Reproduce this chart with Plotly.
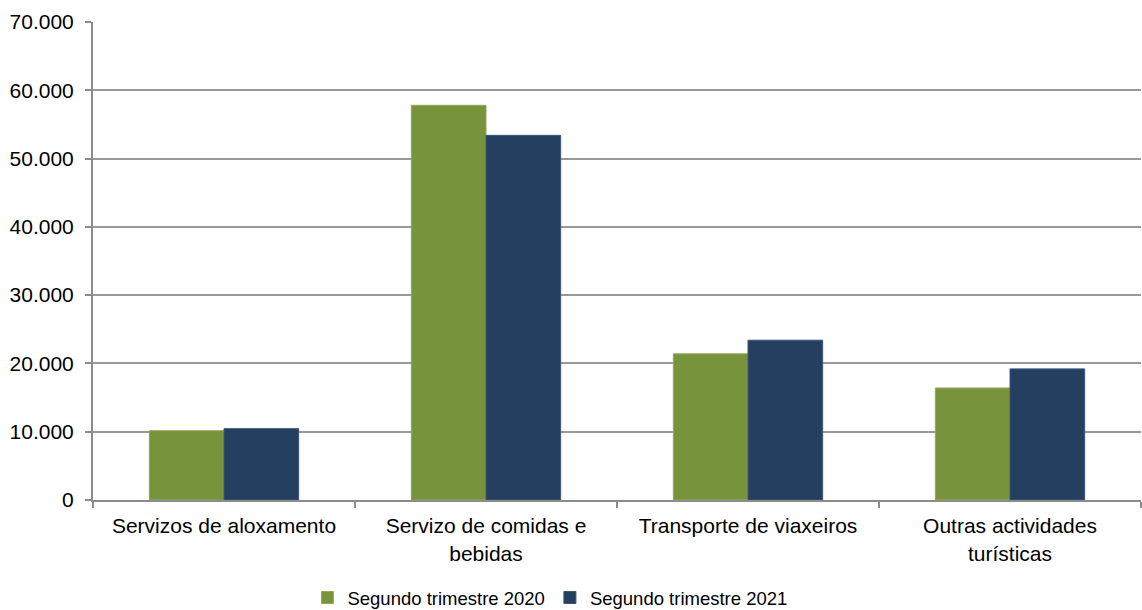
import plotly.graph_objects as go

categories = ["Servizos de aloxamento", "Servizo de comidas e<br>bebidas",
              "Transporte de viaxeiros", "Outras actividades<br>turísticas"]
series_2020 = [10150, 57800, 21400, 16400]
series_2021 = [10450, 53400, 23400, 19200]
tick_vals = [0, 10000, 20000, 30000, 40000, 50000, 60000, 70000]

fig = go.Figure()
fig.add_trace(go.Bar(name="Segundo trimestre 2020", x=categories, y=series_2020,
                     marker=dict(color="#77933C", line=dict(color="#8FAA55", width=1))))
fig.add_trace(go.Bar(name="Segundo trimestre 2021", x=categories, y=series_2021,
                     marker=dict(color="#243F60", line=dict(color="#3A5678", width=1))))

fig.update_layout(
    width=1142, height=610,
    paper_bgcolor="white", plot_bgcolor="white",
    margin=dict(l=93, r=1, t=22, b=110, autoexpand=False),
    barmode="group", bargap=0.43, bargroupgap=0,
    separators=",.",
    font=dict(family="Liberation Sans, Arial, sans-serif", size=21, color="black"),
    showlegend=True,
    legend=dict(orientation="h", x=0.436, xanchor="center", y=-0.205, yanchor="middle",
                font=dict(size=18.5), itemwidth=30, traceorder="normal"),
)
fig.update_yaxes(range=[0, 70000], tickvals=tick_vals, tickformat=",.0f",
                 showgrid=True, gridcolor="#999999", gridwidth=2,
                 showline=True, linecolor="#8C8C8C", linewidth=2,
                 ticks="outside", ticklen=6, tickcolor="#8C8C8C", tickwidth=2,
                 zeroline=False, tickfont=dict(size=21), automargin=False,
                 ticklabelstandoff=7)
fig.update_xaxes(showline=True, linecolor="#8C8C8C", linewidth=2,
                 ticks="outside", tickson="boundaries", ticklen=6,
                 tickcolor="#8C8C8C", tickwidth=2, tickfont=dict(size=21),
                 automargin=False, ticklabelstandoff=6)

fig.write_html("out.html", config={"displayModeBar": False},
               post_script="document.body.style.margin='0px';document.body.style.overflow='hidden';")
